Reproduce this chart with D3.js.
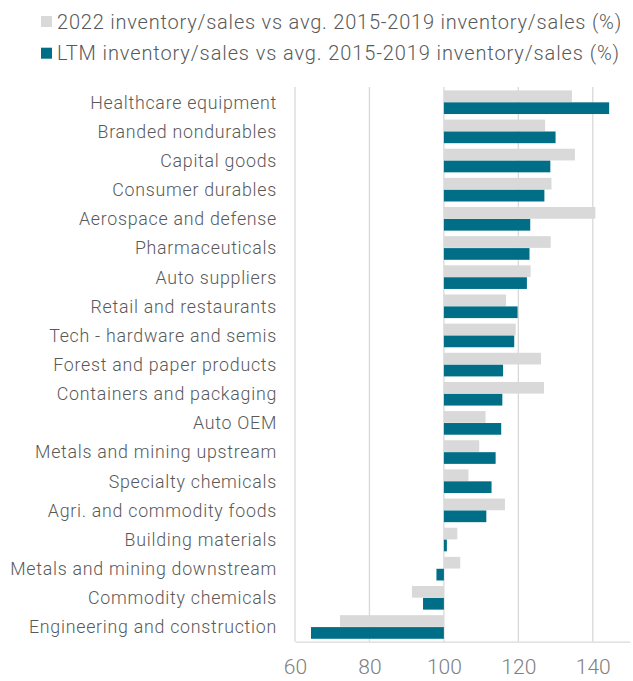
<!DOCTYPE html>
<html><head><meta charset="utf-8">
<script src="https://cdn.jsdelivr.net/npm/d3@7"></script>
<style>body{margin:0;background:#fff}svg{display:block}text{font-family:Roboto,sans-serif;font-weight:300}</style>
</head><body>
<svg id="c" width="633" height="681"></svg>
<script>
const categories = ["Healthcare equipment","Branded nondurables","Capital goods","Consumer durables","Aerospace and defense","Pharmaceuticals","Auto suppliers","Retail and restaurants","Tech - hardware and semis","Forest and paper products","Containers and packaging","Auto OEM","Metals and mining upstream","Specialty chemicals","Agri. and commodity foods","Building materials","Metals and mining downstream","Commodity chemicals","Engineering and construction"];
const series2022 = [134.4,127.2,135.2,128.9,140.7,128.7,123.3,116.7,119.3,126.1,126.9,111.2,109.5,106.6,116.4,103.6,104.4,91.4,72.1];
const seriesLTM = [144.4,130.0,128.6,127.0,123.2,123.0,122.3,119.8,118.9,115.9,115.7,115.4,113.9,112.8,111.4,100.8,98.0,94.4,64.3];
const seriesNames = ["2022 inventory/sales vs avg. 2015-2019 inventory/sales (%)","LTM inventory/sales vs avg. 2015-2019 inventory/sales (%)"];
const xTicks = [60,80,100,120,140];
const colors = ["#d9d9d9","#006e87"];

const svg = d3.select("#c");
const x = d3.scaleLinear().domain([60,150]).range([295,630]);
const y = d3.scaleBand().domain(categories).range([87.5,641.7]).paddingInner(0.19).paddingOuter(0.1);
const sub = d3.scaleBand().domain([0,1]).range([0,y.bandwidth()]).paddingInner(0.02);

// gridlines
svg.append("g").selectAll("line").data(xTicks).join("line")
  .attr("x1",d=>x(d)).attr("x2",d=>x(d)).attr("y1",87).attr("y2",641.7)
  .attr("stroke","#d9d9d9").attr("stroke-width",1.3);

const data = [series2022, seriesLTM];
data.forEach((vals,si)=>{
  svg.append("g").selectAll("rect").data(vals).join("rect")
    .attr("x",d=>x(Math.min(d,100)))
    .attr("width",d=>Math.abs(x(d)-x(100)))
    .attr("y",(d,i)=>y(categories[i])+sub(si))
    .attr("height",sub.bandwidth())
    .attr("fill",colors[si]);
});

// axis
const ax = svg.append("g").attr("transform","translate(0,641.7)").call(d3.axisBottom(x).tickValues(xTicks).tickSize(0).tickPadding(17).tickFormat(d3.format("d")));
ax.select(".domain").attr("stroke","#d9d9d9").attr("stroke-width",1.3);
ax.selectAll("text").attr("font-size",21).attr("fill","#808080").style("font-family","Roboto,sans-serif").style("font-weight",300);

// category labels
const labs = svg.append("g").selectAll("text").data(categories).join("text")
  .attr("x",277).attr("y",d=>y(d)+y.bandwidth()/2).attr("dy","0.36em")
  .attr("text-anchor","end").attr("font-size",17.8).attr("fill","#595959")
  .text(d=>d);
const longest = labs.filter(d=>d==="Engineering and construction").node();
const lw = longest.getComputedTextLength();
labs.style("letter-spacing", ((248 - lw)/28)+"px");

// legend
const lg = svg.append("g");
seriesNames.forEach((n,i)=>{
  lg.append("rect").attr("x",41).attr("y",16+i*31.7).attr("width",11).attr("height",11).attr("fill",colors[i]);
  const t = lg.append("text").attr("x",57).attr("y",21.5+i*31.3).attr("dy","0.36em").attr("font-size",20).attr("fill","#595959").text(n);
  const w = t.node().getComputedTextLength();
  const target = i===0 ? 565 : 563;
  t.style("letter-spacing", ((target - w)/n.length)+"px");
});
</script>
</body></html>
